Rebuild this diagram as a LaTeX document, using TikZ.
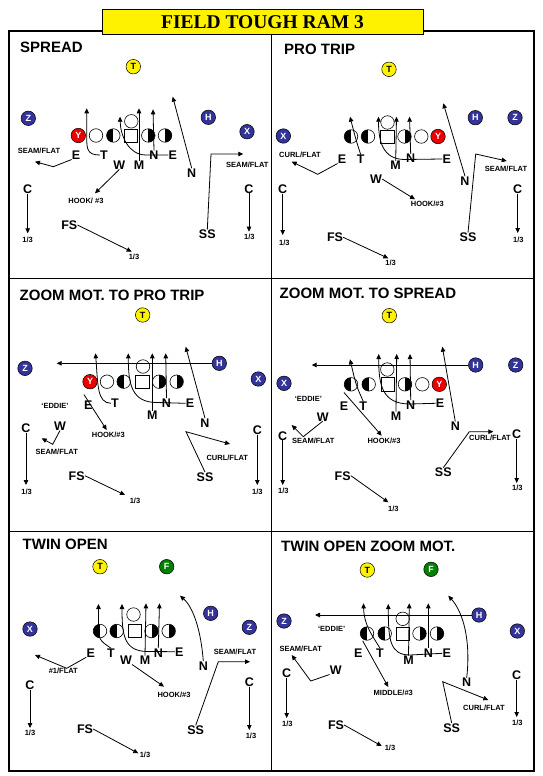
\documentclass[tikz,border=0pt]{standalone}
\usepackage{fontspec}
\setmainfont{Liberation Sans}
\newfontfamily\headfont{Liberation Serif}
\usepackage{xcolor}
\usepackage{tikz}
\usetikzlibrary{arrows.meta}
\definecolor{wrblue}{RGB}{51,51,153}
\definecolor{wrred}{RGB}{235,0,0}
\definecolor{wrgreen}{RGB}{0,128,0}

\begin{document}
\begin{tikzpicture}[x=1pt, y=-1pt,
  panel/.style={anchor=west, font=\fontsize{15}{16}\selectfont\bfseries, inner sep=0},
  lman/.style={circle, draw, fill=white, minimum size=13.5pt, inner sep=0, line width=0.6pt},
  lmanL/.style={lman, path picture={\fill[black] (path picture bounding box.north west) rectangle (path picture bounding box.south);}},
  lmanR/.style={lman, path picture={\fill[black] (path picture bounding box.north east) rectangle (path picture bounding box.south);}},
  snapbox/.style={draw, fill=white, minimum size=13.3pt, inner sep=0, line width=0.6pt},
  wr/.style={circle, draw, fill=wrblue, text=white, minimum size=14.5pt, inner sep=0, line width=0.5pt,
             font=\fontsize{9}{9}\selectfont\bfseries},
  bk/.style={wr, fill=yellow, text=black},
  dfn/.style={font=\fontsize{12.5}{13}\selectfont\bfseries, inner sep=0},
  zone/.style={font=\fontsize{7.5}{8}\selectfont\bfseries, inner sep=0},
  rt/.style={-{Triangle[length=5pt,width=4.5pt]}, line width=0.8pt}]
\useasboundingbox (0,0) rectangle (542,776);
\draw[line width=1.8pt] (9,31) rectangle (534,771);
\draw[line width=0.8pt] (271.5,31) -- (271.5,771) (9,278.5) -- (534,278.5) (9,531) -- (534,531);
\node[draw, fill=yellow, minimum width=321pt, minimum height=25pt, inner sep=0, line width=0.8pt,
      font=\headfont\fontsize{19.5}{20}\selectfont\bfseries] (title) at (262.5,21.8) {FIELD TOUGH RAM 3};

\node[panel] (spHead) at (20,47.5) {SPREAD};
\node[bk] (spBT) at (133.3,66.7) {T};
\node[wr] (spWZ) at (28.3,118.3) {Z};
\node[wr] (spWH) at (208.3,117.3) {H};
\node[wr] (spWX) at (247,131.7) {X};
\node[wr, fill=wrred] (spWY) at (78.3,135.5) {Y};
\node[lman] (spO1) at (96,135.5) {};
\node[lmanL] (spO2) at (113.3,135.5) {};
\node[snapbox] (spO3) at (131,135.5) {};
\node[lmanR] (spO4) at (148.3,135.5) {};
\node[lmanR] (spO5) at (165,135.5) {};
\node[lman] (spQB) at (131.3,121.3) {};
\node[dfn] (spE1) at (76,155) {E};
\node[dfn] (spT) at (104,155) {T};
\node[dfn] (spN1) at (154,155) {N};
\node[dfn] (spE2) at (172.7,155) {E};
\node[dfn] (spW) at (119.3,165) {W};
\node[dfn] (spM) at (139,165) {M};
\node[dfn] (spN2) at (191.7,172.7) {N};
\node[dfn] (spC1) at (27.7,189.3) {C};
\node[dfn] (spC2) at (249,188.7) {C};
\node[dfn] (spFS) at (69.3,225) {FS};
\node[dfn] (spSS) at (207.3,234.3) {SS};
\node[zone] (spL1) at (39,151) {SEAM/FLAT};
\node[zone] (spL2) at (247.3,165) {SEAM/FLAT};
\node[zone] (spL3) at (86,201.3) {HOOK/ \#3};
\node[zone] (spL4) at (27.7,240) {1/3};
\node[zone] (spL5) at (249.3,237.3) {1/3};
\node[zone] (spL6) at (134,256.7) {1/3};
\coordinate (spE1e) at (35,161.7);
\coordinate (spTe) at (86.7,108.3);
\coordinate (spMe) at (139,108.3);
\coordinate (spN1e) at (153,109.3);
\coordinate (spE2e) at (120,116.7);
\coordinate (spN2e) at (172.7,96.7);
\coordinate (spSSe) at (243.3,154);
\coordinate (spWe) at (95,193.3);
\coordinate (spC1e) at (27.7,233.3);
\coordinate (spC2e) at (249,231.7);
\coordinate (spFSe) at (131.7,251.7);
\draw[rt] (spE1.south west) -- (53.3,166.7) -- (spE1e);
\draw[rt] (spT.west) .. controls (88,155) and (86.7,150) .. (86.7,138) -- (spTe);
\draw[rt] (spM.north) -- (spMe);
\draw[rt] (spN1.north) -- (spN1e);
\draw[rt] (spE2.west) -- (146,155) .. controls (128,155) and (120.5,135) .. (spE2e);
\draw[rt] (spN2.north) -- (spN2e);
\draw[rt] (spSS.north) -- (211,154) -- (spSSe);
\draw[rt] (spW.south) -- (spWe);
\draw[rt] (spC1.south) -- (spC1e);
\draw[rt] (spC2.south) -- (spC2e);
\draw[rt] (spFS.east) -- (spFSe);

\node[panel] (ptHead) at (284,49) {PRO TRIP};
\node[bk] (ptBT) at (389,69.3) {T};
\node[wr] (ptWX) at (283.3,136) {X};
\node[wr] (ptWH) at (475.3,117.7) {H};
\node[wr] (ptWZ) at (515,117.7) {Z};
\node[wr, fill=wrred] (ptWY) at (438,136.5) {Y};
\node[lmanL] (ptO1) at (351,136.5) {};
\node[lmanL] (ptO2) at (368,136.5) {};
\node[snapbox] (ptO3) at (387.3,136.5) {};
\node[lmanR] (ptO4) at (404.5,136.5) {};
\node[lman] (ptO5) at (421.3,136.5) {};
\node[lman] (ptQB) at (387.5,122.5) {};
\node[dfn] (ptE1) at (342,159) {E};
\node[dfn] (ptT) at (360.7,159) {T};
\node[dfn] (ptM) at (395.7,165.5) {M};
\node[dfn] (ptN1) at (410.7,158.5) {N};
\node[dfn] (ptE2) at (446.7,159) {E};
\node[dfn] (ptW) at (376,179) {W};
\node[dfn] (ptN2) at (465,180.7) {N};
\node[dfn] (ptC1) at (282.7,189) {C};
\node[dfn] (ptC2) at (517.7,189.3) {C};
\node[dfn] (ptFS) at (335,237.3) {FS};
\node[dfn] (ptSS) at (468,237.3) {SS};
\node[zone] (ptL1) at (300,155) {CURL/FLAT};
\node[zone] (ptL2) at (506,169.3) {SEAM/FLAT};
\node[zone] (ptL3) at (427.3,204) {HOOK/\#3};
\node[zone] (ptL4) at (284.3,242.7) {1/3};
\node[zone] (ptL5) at (518.3,240) {1/3};
\node[zone] (ptL6) at (390.7,263.3) {1/3};
\coordinate (ptE1e) at (291.7,161.7);
\coordinate (ptTe) at (350,116.7);
\coordinate (ptMe) at (396.5,116.7);
\coordinate (ptN1e) at (409.5,116.7);
\coordinate (ptE2e) at (378.5,116.7);
\coordinate (ptN2e) at (443.3,103.3);
\coordinate (ptSSe) at (506.7,161);
\coordinate (ptWe) at (415,199.3);
\coordinate (ptC1e) at (282.7,235);
\coordinate (ptC2e) at (517.7,233);
\coordinate (ptFSe) at (388.3,258.3);
\draw[rt] (ptE1.south west) -- (317.7,174.3) -- (ptE1e);
\draw[rt] (ptT.north) .. controls (356,140) .. (ptTe);
\draw[rt] (ptM.north) -- (ptMe);
\draw[rt] (ptN1.north) -- (ptN1e);
\draw[rt] (ptE2.west) -- (405,159.5) .. controls (382,159.5) and (378.5,140) .. (ptE2e);
\draw[rt] (ptN2.north) -- (ptN2e);
\draw[rt] (ptSS.north) -- (475.7,154) -- (ptSSe);
\draw[rt] (ptW.east) -- (ptWe);
\draw[rt] (ptC1.south) -- (ptC1e);
\draw[rt] (ptC2.south) -- (ptC2e);
\draw[rt] (ptFS.east) -- (ptFSe);

\node[panel] (zpHead) at (19.5,295) {ZOOM MOT. TO PRO TRIP};
\node[bk] (zpBT) at (142.7,315) {T};
\node[wr] (zpWZ) at (25,368.3) {Z};
\node[wr] (zpWH) at (219.3,363.3) {H};
\node[wr] (zpWX) at (258.3,379) {X};
\node[wr, fill=wrred] (zpWY) at (90,381.7) {Y};
\node[lman] (zpO1) at (107,381.7) {};
\node[lmanL] (zpO2) at (123.7,381.7) {};
\node[snapbox] (zpO3) at (142.3,381.7) {};
\node[lmanR] (zpO4) at (159.2,381.7) {};
\node[lmanR] (zpO5) at (176.7,381.7) {};
\node[lman] (zpQB) at (143,366.5) {};
\node[dfn] (zpE1) at (88.3,405) {E};
\node[dfn] (zpT) at (115,403.3) {T};
\node[dfn] (zpM) at (152.3,415) {M};
\node[dfn] (zpN1) at (166.5,402.7) {N};
\node[dfn] (zpE2) at (190,403.3) {E};
\node[dfn] (zpN2) at (205,422.7) {N};
\node[dfn] (zpW) at (60,426) {W};
\node[dfn] (zpC1) at (26,428.3) {C};
\node[dfn] (zpC2) at (257.3,430) {C};
\node[dfn] (zpFS) at (76.7,475.7) {FS};
\node[dfn] (zpSS) at (205,476.7) {SS};
\node[zone] (zpL1) at (55,406) {`EDDIE'};
\node[zone] (zpL2) at (108.3,434.5) {HOOK/\#3};
\node[zone] (zpL3) at (56.7,451.7) {SEAM/FLAT};
\node[zone] (zpL4) at (227.3,458) {CURL/FLAT};
\node[zone] (zpL5) at (26.7,491.7) {1/3};
\node[zone] (zpL6) at (257.3,491.7) {1/3};
\node[zone] (zpL7) at (135,500.7) {1/3};
\coordinate (zpHe) at (56.7,363.3);
\coordinate (zpE1e) at (106.7,430);
\coordinate (zpTe) at (95.5,353.3);
\coordinate (zpMe) at (152.3,353.3);
\coordinate (zpN1e) at (165.7,353.3);
\coordinate (zpE2e) at (128.3,353.3);
\coordinate (zpN2e) at (185.7,346.7);
\coordinate (zpWe) at (41.7,438.3);
\coordinate (zpSSe) at (230,444);
\coordinate (zpC1e) at (26,485);
\coordinate (zpC2e) at (257.3,485);
\coordinate (zpFSe) at (125,495);
\draw[rt] (zpWH.west) -- (zpHe);
\draw[rt] ([yshift=6pt]zpE1.north west) -- (zpE1e);
\draw[rt] (zpT.west) .. controls (97,403) and (98,385) .. (zpTe);
\draw[rt] (zpM.north) -- (zpMe);
\draw[rt] (zpN1.north) -- (zpN1e);
\draw[rt] (zpE2.west) -- (157,402.5) .. controls (132,402.5) and (128.3,385) .. (zpE2e);
\draw[rt] (zpN2.north) -- (zpN2e);
\draw[rt] (zpW.south) -- (52.7,444.3) -- (zpWe);
\draw[rt] (zpSS.north) -- (186,431.7) -- (zpSSe);
\draw[rt] (zpC1.south) -- (zpC1e);
\draw[rt] (zpC2.south) -- (zpC2e);
\draw[rt] (zpFS.east) -- (zpFSe);

\node[panel] (zsHead) at (279.5,293.3) {ZOOM MOT. TO SPREAD};
\node[bk] (zsBT) at (389.3,315.7) {T};
\node[wr] (zsWH) at (475.7,365) {H};
\node[wr] (zsWZ) at (515.7,365) {Z};
\node[wr] (zsWX) at (284,383.3) {X};
\node[wr, fill=wrred] (zsWY) at (439.3,384.3) {Y};
\node[lmanL] (zsO1) at (351,384.3) {};
\node[lmanL] (zsO2) at (368.7,384.3) {};
\node[snapbox] (zsO3) at (387.7,384.3) {};
\node[lmanR] (zsO4) at (405,384.3) {};
\node[lman] (zsO5) at (422.3,384.3) {};
\node[lman] (zsQB) at (387.3,369.5) {};
\node[dfn] (zsE1) at (344,406) {E};
\node[dfn] (zsT) at (363.3,406) {T};
\node[dfn] (zsM) at (396,416) {M};
\node[dfn] (zsN1) at (410.7,404.7) {N};
\node[dfn] (zsE2) at (440,403.3) {E};
\node[dfn] (zsW) at (322.7,416.7) {W};
\node[dfn] (zsN2) at (455.3,426) {N};
\node[dfn] (zsC1) at (282.7,435.7) {C};
\node[dfn] (zsC2) at (516.7,434.3) {C};
\node[dfn] (zsFS) at (342.7,475.7) {FS};
\node[dfn] (zsSS) at (443.3,472.3) {SS};
\node[zone] (zsL1) at (308.3,399.3) {`EDDIE'};
\node[zone] (zsL2) at (313.3,441.3) {SEAM/FLAT};
\node[zone] (zsL3) at (384,441.3) {HOOK/\#3};
\node[zone] (zsL4) at (490,438) {CURL/FLAT};
\node[zone] (zsL5) at (283.3,490.7) {1/3};
\node[zone] (zsL6) at (517.3,488.3) {1/3};
\node[zone] (zsL7) at (393.3,509) {1/3};
\coordinate (zsHe) at (311.7,365);
\coordinate (zsTe) at (350,359.3);
\coordinate (zsMe) at (396.7,354);
\coordinate (zsN1e) at (410,354);
\coordinate (zsE2e) at (378.7,354);
\coordinate (zsE1e) at (381.7,435.7);
\coordinate (zsN2e) at (442.3,346.7);
\coordinate (zsWe) at (291.7,425);
\coordinate (zsSSe) at (493.3,431.7);
\coordinate (zsC1e) at (282.7,485);
\coordinate (zsC2e) at (516.7,483);
\coordinate (zsFSe) at (388.3,502.3);
\draw[rt] (zsWH.west) -- (zsHe);
\draw[rt] (zsT.north) .. controls (356,385) .. (zsTe);
\draw[rt] (zsM.north) -- (zsMe);
\draw[rt] (zsN1.north) -- (zsN1e);
\draw[rt] (zsE2.west) -- (410,404) .. controls (382,404) and (378.7,385) .. (zsE2e);
\draw[rt] ([yshift=9pt]zsE1.north) -- (zsE1e);
\draw[rt] (zsN2.north) -- (zsN2e);
\draw[rt] (zsW.south) -- (303.3,436.7) -- (zsWe);
\draw[rt] (zsSS.north) -- (469.3,431.7) -- (zsSSe);
\draw[rt] (zsC1.south) -- (zsC1e);
\draw[rt] (zsC2.south) -- (zsC2e);
\draw[rt] (zsFS.east) -- (zsFSe);

\node[panel] (twHead) at (22.5,544) {TWIN OPEN};
\node[bk] (twBT) at (100,566.7) {T};
\node[wr, fill=wrgreen] (twBF) at (166.7,566.7) {F};
\node[wr] (twWH) at (210.7,613.3) {H};
\node[wr] (twWX) at (30,629) {X};
\node[wr] (twWZ) at (249.3,627.3) {Z};
\node[lmanL] (twO1) at (100,631) {};
\node[lmanL] (twO2) at (116.7,631) {};
\node[snapbox] (twO3) at (135,631) {};
\node[lmanR] (twO4) at (151.5,631) {};
\node[lmanR] (twO5) at (168.7,631) {};
\node[lman] (twQB) at (133.5,614.5) {};
\node[dfn] (twE1) at (90.7,652.7) {E};
\node[dfn] (twT) at (111,652.7) {T};
\node[dfn] (twW) at (126,660) {W};
\node[dfn] (twM) at (145,660) {M};
\node[dfn] (twN1) at (158.3,652.7) {N};
\node[dfn] (twE2) at (179.3,651.7) {E};
\node[dfn] (twN2) at (203.3,665.7) {N};
\node[dfn] (twC1) at (30,685) {C};
\node[dfn] (twC2) at (249.3,682.3) {C};
\node[dfn] (twFS) at (85,729) {FS};
\node[dfn] (twSS) at (195.7,730) {SS};
\node[zone] (twL1) at (63.3,670.7) {\#1/FLAT};
\node[zone] (twL2) at (235,652) {SEAM/FLAT};
\node[zone] (twL3) at (174,695) {HOOK/\#3};
\node[zone] (twL4) at (30,733.3) {1/3};
\node[zone] (twL5) at (251,736) {1/3};
\node[zone] (twL6) at (145,755) {1/3};
\coordinate (twTe) at (98.5,604);
\coordinate (twMe) at (146,603.3);
\coordinate (twN1e) at (159.5,603.3);
\coordinate (twE2e) at (122,604);
\coordinate (twWe) at (164,686.7);
\coordinate (twE1e) at (35,655);
\coordinate (twN2e) at (180,595.7);
\coordinate (twSSe) at (250,661.7);
\coordinate (twC1e) at (30,728);
\coordinate (twC2e) at (249.3,730);
\coordinate (twFSe) at (138.3,753.3);
\draw[rt] (twT.north) .. controls (99,640) .. (98.5,625) -- (twTe);
\draw[rt] (twM.north) -- (twMe);
\draw[rt] (twN1.north) -- (twN1e);
\draw[rt] (twE2.west) -- (147,651.5) .. controls (124,651) and (122,635) .. (twE2e);
\draw[rt] (twW.south east) -- (twWe);
\draw[rt] (twE1.south west) -- (66.7,668.3) -- (twE1e);
\draw[rt] (twN2.north) .. controls (201,630) and (193,607) .. (twN2e);
\draw[rt] (twSS.north) -- (218.3,661.7) -- (twSSe);
\draw[rt] (twC1.south) -- (twC1e);
\draw[rt] (twC2.south) -- (twC2e);
\draw[rt] (twFS.east) -- (twFSe);

\node[panel] (tzHead) at (281,546.7) {TWIN OPEN ZOOM MOT.};
\node[bk] (tzBT) at (367.3,570) {T};
\node[wr, fill=wrgreen] (tzBF) at (431,569.3) {F};
\node[wr] (tzWH) at (479,615) {H};
\node[wr] (tzWZ) at (284,621) {Z};
\node[wr] (tzWX) at (517.3,631) {X};
\node[lmanL] (tzO1) at (367,633.5) {};
\node[lmanL] (tzO2) at (384.7,633.5) {};
\node[snapbox] (tzO3) at (402.7,633.5) {};
\node[lmanR] (tzO4) at (419.5,633.5) {};
\node[lmanR] (tzO5) at (437,633.5) {};
\node[lman] (tzQB) at (402.7,618.8) {};
\node[dfn] (tzE1) at (358.3,653.3) {E};
\node[dfn] (tzT) at (380,652.7) {T};
\node[dfn] (tzM) at (408.5,660) {M};
\node[dfn] (tzN1) at (428.3,652.7) {N};
\node[dfn] (tzE2) at (446.7,653.3) {E};
\node[dfn] (tzW) at (335.7,670) {W};
\node[dfn] (tzN2) at (466.7,682.3) {N};
\node[dfn] (tzC1) at (286.7,673.3) {C};
\node[dfn] (tzC2) at (516.7,675) {C};
\node[dfn] (tzFS) at (336,725) {FS};
\node[dfn] (tzSS) at (451.7,727.7) {SS};
\node[zone] (tzL1) at (331.7,629) {`EDDIE'};
\node[zone] (tzL2) at (300.7,649.3) {SEAM/FLAT};
\node[zone] (tzL3) at (393.3,692.7) {MIDDLE/\#3};
\node[zone] (tzL4) at (484,707.7) {CURL/FLAT};
\node[zone] (tzL5) at (287.3,724.3) {1/3};
\node[zone] (tzL6) at (517.3,722.7) {1/3};
\node[zone] (tzL7) at (390,747.7) {1/3};
\coordinate (tzHe) at (315,615);
\coordinate (tzE1e) at (388.3,687);
\coordinate (tzTe) at (363.5,603.3);
\coordinate (tzMe) at (409.3,603.3);
\coordinate (tzN1e) at (428.3,603.3);
\coordinate (tzE2e) at (388.3,604);
\coordinate (tzWe) at (291.7,655);
\coordinate (tzN2e) at (448.3,595.7);
\coordinate (tzSSe) at (488.3,700);
\coordinate (tzC1e) at (286.7,718);
\coordinate (tzC2e) at (516.7,717);
\coordinate (tzFSe) at (381.7,746);
\draw[rt] (tzWH.west) -- (tzHe);
\draw[rt] ([yshift=8pt]tzE1.north east) -- (tzE1e);
\draw[rt] (tzT.north) .. controls (372,635) and (364,625) .. (tzTe);
\draw[rt] (tzM.north) -- (tzMe);
\draw[rt] (tzN1.north) -- (tzN1e);
\draw[rt] (tzE2.west) -- (410,655) .. controls (390,655) and (388.3,640) .. (tzE2e);
\draw[rt] (tzW.south west) -- (310.7,681) -- (tzWe);
\draw[rt] (tzN2.north) .. controls (471,640) and (463,612) .. (tzN2e);
\draw[rt] (tzSS.north) -- (442.7,681.7) -- (tzSSe);
\draw[rt] (tzC1.south) -- (tzC1e);
\draw[rt] (tzC2.south) -- (tzC2e);
\draw[rt] (tzFS.east) -- (tzFSe);
\end{tikzpicture}
\end{document}
